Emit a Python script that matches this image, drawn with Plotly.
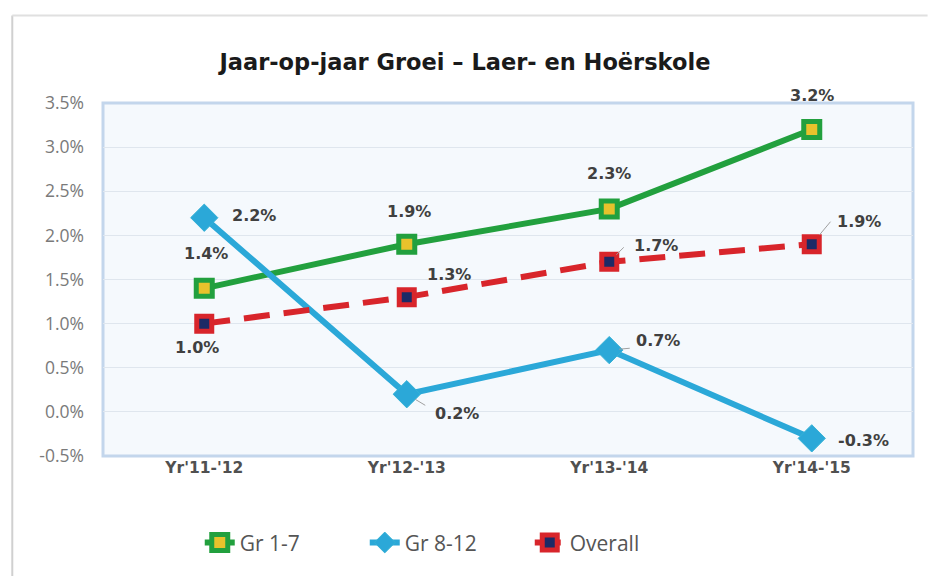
import plotly.graph_objects as go

categories = ["Yr'11-'12", "Yr'12-'13", "Yr'13-'14", "Yr'14-'15"]
gr17 = [1.4, 1.9, 2.3, 3.2]
gr812 = [2.2, 0.2, 0.7, -0.3]
overall = [1.0, 1.3, 1.7, 1.9]
series_names = ["Gr 1-7", "Gr 8-12", "Overall"]
yticks = [-0.5, 0.0, 0.5, 1.0, 1.5, 2.0, 2.5, 3.0, 3.5]
title = "Jaar-op-jaar Groei – Laer- en Hoërskole"

fig = go.Figure()
fig.add_trace(go.Scatter(
    x=categories, y=gr17, name=series_names[0], mode="lines+markers",
    line=dict(color="#22a03e", width=6),
    marker=dict(symbol="square", size=16, color="#e8c22c", line=dict(color="#22a03e", width=5)),
))
fig.add_trace(go.Scatter(
    x=categories, y=gr812, name=series_names[1], mode="lines+markers",
    line=dict(color="#2ba8d8", width=6),
    marker=dict(symbol="diamond", size=21, color="#2ba8d8", line=dict(color="#36b2d6", width=1)),
))
fig.add_trace(go.Scatter(
    x=categories, y=overall, name=series_names[2], mode="lines+markers",
    line=dict(color="#d8252b", width=6, dash="26px,14px"),
    marker=dict(symbol="square", size=15, color="#1c2a66", line=dict(color="#d8252b", width=5)),
))

def lab(v):
    return f"{v:.1f}%"

# label offsets (pixels) per series
off17 = [(2, 35), (2, 33), (0, 35), (0, 34)]
off812 = [(50, 2), (50, -19), (49, 10), (52, -2)]
offov = [(-7, -24), (42, 23), (47, 16), (47, 23)]
ann = []
for c, v, (dx, dy) in zip(categories, gr17, off17):
    ann.append(dict(x=c, y=v, text=lab(v), showarrow=False, xshift=dx, yshift=dy))
for c, v, (dx, dy) in zip(categories, gr812, off812):
    ann.append(dict(x=c, y=v, text=lab(v), showarrow=False, xshift=dx, yshift=dy))
for c, v, (dx, dy) in zip(categories, overall, offov):
    ann.append(dict(x=c, y=v, text=lab(v), showarrow=False, xshift=dx, yshift=dy))
for a in ann:
    a["font"] = dict(family="DejaVu Sans", size=16, color="#404040", weight="bold")

# small gray leader ticks
def leader(c, v, ax, ay, standoff):
    return dict(x=c, y=v, ax=ax, ay=ay, text="", showarrow=True, arrowhead=0,
                arrowwidth=1, arrowcolor="#a0a0a0", standoff=standoff)

ann.append(leader(categories[2], gr812[2], 22, -2, 10))
ann.append(leader(categories[2], overall[2], 16, -16, 10))
ann.append(leader(categories[3], overall[3], 20, -24, 12))
ann.append(leader(categories[1], gr812[1], 20, 12, 10))

fig.update_layout(
    width=928, height=576,
    margin=dict(l=103, r=15, t=103, b=120, autoexpand=False),
    paper_bgcolor="white",
    plot_bgcolor="#f5f9fd",
    title=dict(text=title, x=0.501, xanchor="center", xref="container", y=0.892, yanchor="middle",
               font=dict(family="DejaVu Sans", size=22.5, color="#1a1a1a", weight="bold")),
    showlegend=True,
    legend=dict(orientation="h", x=0.425, xanchor="center", y=-0.246, yanchor="middle",
                font=dict(family="Open Sans", size=21, color="#555555"),
                bgcolor="rgba(0,0,0,0)", tracegroupgap=0, entrywidth=120),
    annotations=ann,
    shapes=[
        dict(type="rect", xref="paper", yref="paper", x0=0, x1=1, y0=0, y1=1,
             line=dict(color="#c3d6ec", width=3), layer="below"),
        dict(type="line", xref="paper", yref="paper", x0=-0.112, x1=-0.112, y0=-0.34, y1=1.248,
             line=dict(color="#d0d0d0", width=2), layer="below"),
        dict(type="line", xref="paper", yref="paper", x0=-0.112, x1=1.018, y0=1.248, y1=1.248,
             line=dict(color="#e0e0e0", width=2), layer="below"),
    ],
)
fig.update_xaxes(
    type="category", range=[-0.5, 3.5], showgrid=False, zeroline=False,
    tickfont=dict(family="DejaVu Sans", size=15.5, color="#505050", weight="bold"),
    ticks="", showline=False, automargin=False,
)
fig.update_yaxes(
    range=[-0.5, 3.5], tickvals=yticks, ticktext=[f"{t:.1f}%" for t in yticks],
    showgrid=True, gridcolor="#dfe6ee", gridwidth=1, zeroline=False,
    tickfont=dict(family="Open Sans", size=17.5, color="#7a7a7a"), ticks="",
    ticklabelstandoff=18, automargin=False,
)

fig.write_html("out.html", config={"displayModeBar": False},
               post_script="document.body.style.margin='0';document.body.style.overflow='hidden';")
